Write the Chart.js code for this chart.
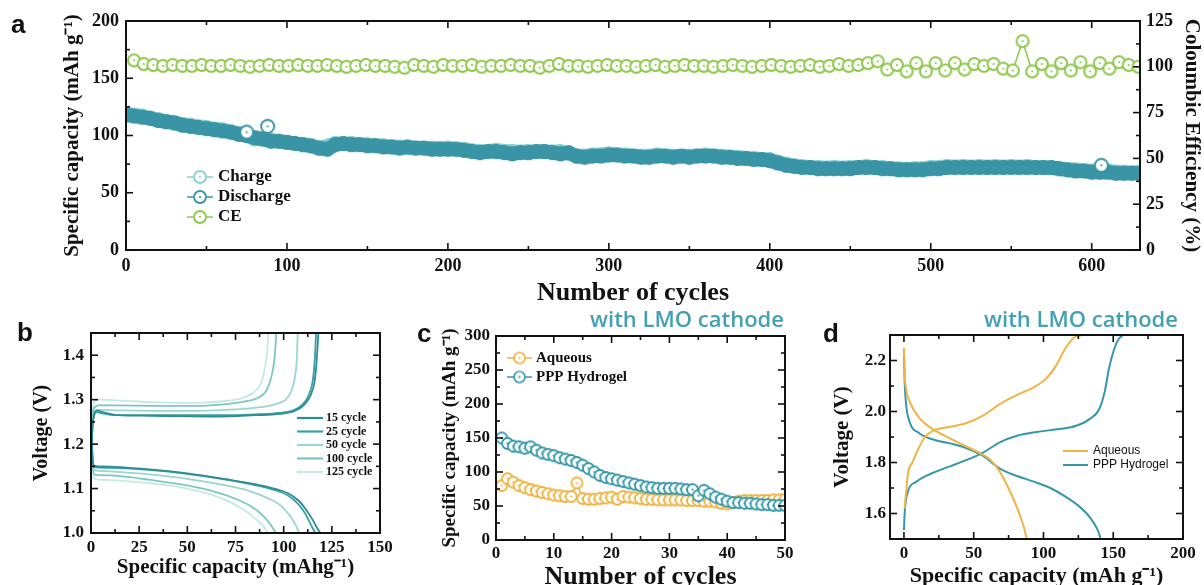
<!DOCTYPE html>
<html>
<head>
<meta charset="utf-8">
<script src="https://cdn.jsdelivr.net/npm/chart.js@4"></script>
<style>
body{margin:0;background:#fff;}
#fig{position:relative;width:1204px;height:585px;overflow:hidden;}
canvas{position:absolute;}
.lab{position:absolute;font:bold 26px 'Liberation Sans',Arial,sans-serif;color:#111;line-height:1;}
.lmo{position:absolute;font:600 22px 'Open Sans',sans-serif;color:#43a0b5;white-space:nowrap;line-height:1;transform:translateX(-50%);}
</style>
</head>
<body>
<div id="fig">
<canvas id="ca" width="1204" height="305" style="left:0;top:0"></canvas>
<canvas id="cb" width="400" height="280" style="left:0;top:305px"></canvas>
<canvas id="cc" width="400" height="280" style="left:400px;top:305px"></canvas>
<canvas id="cd" width="404" height="280" style="left:800px;top:305px"></canvas>
<div class="lab" style="left:11px;top:11px">a</div>
<div class="lab" style="left:17px;top:319px">b</div>
<div class="lab" style="left:417px;top:320px">c</div>
<div class="lab" style="left:823px;top:320px">d</div>
<div class="lmo" style="left:687px;top:307px">with LMO cathode</div>
<div class="lmo" style="left:1081px;top:307px">with LMO cathode</div>
</div>
<script>
// ---- panel a: long cycling (capacity every 5 / 10 cycles, CE every 6 cycles)
const dischargeStep = 5;
const dischargeCap = [
  118,117,116,115,113,112,111,109,108,107,
  106,105,104,103,101,100,98,97,95,95,
  94,93,92,91,89,88,92,93,92,92,
  91,91,90,90,89,90,89,89,88,88,
  88,88,87,86,85,86,86,85,84,85,
  85,86,86,85,84,85,82,81,82,82,
  83,83,82,82,81,81,82,82,81,82,
  81,82,82,82,81,81,80,80,79,79,
  78,76,74,73,72,72,71,71,71,71,
  71,72,72,72,71,71,70,70,70,70,
  71,71,72,72,72,72,72,72,72,72,
  72,72,72,72,72,72,71,70,69,69,
  68,68,68,67,67,67,67
];
const chargeStep = 10;
const chargeCap = [
  119,117,114,111,109,107,105,102,97,96,
  94,92,89,93,93,92,91,90,89,89,
  89,88,86,87,86,86,86,86,82,83,
  84,83,82,83,82,82,83,82,81,80,
  79,75,73,72,72,72,73,72,71,71,
  72,73,73,73,73,73,73,72,71,70,
  69,69,68,68
];
const outlierCycles = [75, 88, 606];
const outlierCap = [103, 108, 74];
const ceStart = 5, ceStep = 6;
const ce = [
  103.5,101.5,101,100.5,101,100.5,100.5,101,100.5,100.5,
  101,100.5,100,100.5,101,100.5,100.5,101,100.5,100.5,
  101,100.5,100,100.5,101,100.5,100.5,100,99.5,101,
  100.5,100,101,100.5,100.5,101,100,100.5,100.5,101,
  100.5,100.5,99.5,100.5,101.5,100.5,100.5,100,100.5,101,
  100.5,100.5,100,100.5,101,100,100.5,101,100.5,100.5,
  100,100.5,101,100.5,100,100.5,101,100.5,100,100.5,
  101,100,100.5,101.5,100.5,101,
  102,103,98.5,101,97.5,102,97.5,102,98,102,
  98.5,101.5,100.5,101.5,99,98,114,97.5,101.5,97.5,
  102,98,102.5,97.5,102,99,102.5,101,100
];
const aXTicks = [0,100,200,300,400,500,600];
const aYTicks = [0,50,100,150,200];
const aY2Ticks = [0,25,50,75,100,125];

// ---- panel b: charge/discharge curves [capacity, voltage]
const bLabels = ['15 cycle','25 cycle','50 cycle','100 cycle','125 cycle'];
const bColors = ['#2b8e97','#3a9fa7','#9ad6cf','#7cc8c1','#c6e9e3'];
const b15Charge = [[0,1.14],[0.3,1.19],[0.8,1.24],[1.5,1.265],[3,1.276],[6,1.272],[12,1.266],[25,1.264],[45,1.263],[65,1.262],[85,1.265],[98,1.268],[106,1.275],[111,1.29],[114,1.31],[116,1.34],[117,1.38],[117.6,1.42],[118,1.45]];
const b25Charge = [[0,1.14],[0.3,1.19],[0.8,1.24],[1.5,1.262],[3,1.272],[6,1.269],[12,1.265],[25,1.265],[45,1.265],[65,1.265],[85,1.267],[98,1.27],[105,1.276],[110,1.29],[113,1.31],[115,1.34],[116,1.38],[116.5,1.42],[116.8,1.45]];
const b50Charge = [[0,1.14],[0.3,1.2],[0.8,1.25],[1.5,1.27],[4,1.277],[15,1.276],[35,1.275],[55,1.275],[75,1.278],[88,1.283],[96,1.29],[101,1.3],[104,1.32],[105.8,1.35],[106.8,1.39],[107.3,1.45]];
const b100Charge = [[0,1.14],[0.3,1.2],[0.8,1.26],[1.5,1.28],[4,1.287],[15,1.287],[35,1.286],[55,1.286],[70,1.29],[80,1.296],[87,1.305],[91,1.32],[93.5,1.35],[95.2,1.39],[96.2,1.45]];
const b125Charge = [[0,1.14],[0.3,1.21],[0.8,1.27],[1.5,1.292],[4,1.3],[15,1.298],[35,1.294],[55,1.293],[70,1.297],[78,1.303],[84,1.315],[88,1.335],[90.2,1.37],[91.5,1.41],[92,1.45]];
const b15Dis = [[0,1.27],[0.3,1.22],[0.8,1.17],[1.5,1.152],[4,1.15],[15,1.148],[30,1.143],[50,1.134],[70,1.121],[85,1.11],[95,1.1],[102,1.09],[108,1.072],[112,1.05],[115,1.03],[117.5,1.01],[119,1.0]];
const b25Dis = [[0,1.27],[0.3,1.22],[0.8,1.17],[1.5,1.148],[4,1.147],[15,1.146],[30,1.142],[50,1.133],[70,1.12],[85,1.108],[95,1.097],[102,1.085],[107,1.068],[111,1.045],[114,1.02],[116.3,1.0]];
const b50Dis = [[0,1.28],[0.3,1.22],[0.8,1.17],[1.5,1.142],[4,1.14],[15,1.137],[30,1.132],[50,1.122],[70,1.107],[82,1.095],[92,1.078],[99,1.06],[103,1.04],[106,1.02],[108,1.0]];
const b100Dis = [[0,1.29],[0.3,1.22],[0.8,1.16],[1.5,1.132],[4,1.13],[15,1.128],[30,1.12],[50,1.107],[65,1.092],[75,1.077],[83,1.06],[89,1.04],[93,1.02],[96,1.0]];
const b125Dis = [[0,1.3],[0.3,1.22],[0.8,1.16],[1.5,1.124],[4,1.12],[15,1.118],[30,1.112],[50,1.1],[62,1.087],[72,1.07],[80,1.05],[86,1.03],[89.5,1.015],[92,1.0]];
const bXTicks = [0,25,50,75,100,125,150];
const bYTicks = [1.0,1.1,1.2,1.3,1.4];

// ---- panel c: short cycling, cycles 1..50
const cAqueous = [80,90,85,80,77,74,72,70,68,66,65,64,64,84,61,60,60,61,62,63,60,64,63,62,61,60,60,59,59,59,59,59,58,58,58,57,57,56,54,53,55,57,58,58,58,58,58,59,59,60];
const cHydrogel = [150,142,138,137,135,137,132,128,126,124,121,119,117,114,110,105,100,95,92,90,88,86,84,82,80,78,77,76,76,76,76,75,74,74,65,73,68,63,60,57,55,55,54,54,53,52,52,51,51,51];
const cXTicks = [0,10,20,30,40,50];
const cYTicks = [0,50,100,150,200,250,300];

// ---- panel d: voltage profiles [capacity, voltage]
const dAqCharge = [[0.5,1.62],[1.5,1.68],[3,1.76],[6,1.8],[10,1.85],[15,1.9],[21,1.925],[33,1.94],[45,1.955],[57,1.985],[69,2.03],[81,2.065],[93,2.095],[102,2.13],[109,2.18],[116,2.25],[122,2.29],[128,2.3]];
const dAqDis = [[0,2.25],[0.5,2.15],[1.5,2.09],[4,2.04],[11,1.975],[21,1.93],[33,1.895],[45,1.862],[55,1.835],[62,1.81],[68,1.77],[74,1.71],[79,1.65],[83,1.595],[86,1.545],[88,1.5]];
const dHyCharge = [[0,1.535],[0.5,1.6],[1,1.635],[3,1.69],[9,1.725],[21,1.76],[33,1.785],[45,1.81],[57,1.84],[69,1.88],[81,1.905],[95,1.92],[110,1.93],[124,1.945],[133,1.97],[140,2.01],[144,2.08],[147,2.17],[151,2.25],[154,2.285],[157,2.3]];
const dHyDis = [[0,2.24],[0.5,2.12],[1.5,2.03],[4,1.96],[11,1.915],[21,1.89],[33,1.875],[45,1.856],[57,1.825],[69,1.775],[81,1.747],[93,1.725],[105,1.7],[116,1.665],[126,1.626],[133,1.587],[139,1.534],[141,1.5]];
const dXTicks = [0,50,100,150,200];
const dYTicks = [1.6,1.8,2.0,2.2];

const serif = "'Liberation Serif','Times New Roman',serif";
const sans = "'Liberation Sans',Arial,sans-serif";

// ring marker with centre dot
function ring(color, r, lw, fill) {
  const c = document.createElement('canvas');
  const s = Math.ceil(2 * r + lw + 2);
  c.width = c.height = s;
  const g = c.getContext('2d');
  g.beginPath(); g.arc(s / 2, s / 2, r, 0, Math.PI * 2);
  if (fill) { g.fillStyle = fill; g.fill(); }
  g.strokeStyle = color; g.lineWidth = lw; g.stroke();
  g.fillStyle = color; g.beginPath(); g.arc(s / 2, s / 2, 1.1, 0, Math.PI * 2); g.fill();
  return c;
}
const pairs = arr => arr.map(p => ({x: p[0], y: p[1]}));

// frame, inward ticks and in-plot legend
const deco = {
  id: 'deco',
  afterDatasetsDraw(chart, args, o) {
    const {ctx, chartArea: a} = chart;
    ctx.save();
    ctx.strokeStyle = '#111';
    ctx.lineWidth = 2;
    ctx.strokeRect(a.left, a.top, a.right - a.left, a.bottom - a.top);
    ctx.lineWidth = 1.6;
    const line = (x1, y1, x2, y2) => { ctx.beginPath(); ctx.moveTo(x1, y1); ctx.lineTo(x2, y2); ctx.stroke(); };
    Object.values(chart.scales).forEach(s => {
      const vals = s.ticks.map(t => t.value);
      const step = vals[1] - vals[0];
      const marks = [[vals[0] - step / 2, 4]];
      vals.forEach(v => { marks.push([v, 7]); marks.push([v + step / 2, 4]); });
      marks.forEach(([v, len]) => {
        if (v < s.min - 1e-9 || v > s.max + 1e-9) return;
        const p = s.getPixelForValue(v);
        if (s.isHorizontal()) {
          line(p, a.bottom, p, a.bottom - len);
          line(p, a.top, p, a.top + len);
        } else if (s.position === 'left') {
          line(a.left, p, a.left + len, p);
          if (o.mirror) line(a.right, p, a.right - len, p);
        } else {
          line(a.right, p, a.right - len, p);
        }
      });
    });
    const L = o.legend;
    if (L) {
      let y = L.y;
      ctx.font = L.font;
      ctx.textBaseline = 'middle';
      chart.data.datasets.filter(d => d.inLegend !== false).forEach(d => {
        ctx.strokeStyle = d.borderColor;
        ctx.lineWidth = L.lw;
        line(L.x, y, L.x + L.len, y);
        if (d.legendMarker) {
          const m = d.legendMarker;
          ctx.drawImage(m, L.x + L.len / 2 - m.width / 2, y - m.height / 2);
        }
        ctx.fillStyle = '#111';
        ctx.fillText(d.label, L.x + L.len + L.gap, y);
        y += L.dy;
      });
    }
    ctx.restore();
  }
};

function axis(o) {
  return {
    type: 'linear', position: o.pos, min: o.min, max: o.max,
    afterBuildTicks: s => { s.ticks = o.ticks.map(v => ({value: v})); },
    afterFit: s => { if (s.isHorizontal()) s.height = o.size; else s.width = o.size; },
    grid: {display: false, drawTicks: false},
    border: {display: false},
    ticks: {
      font: {family: serif, weight: 'bold', size: o.fs}, color: '#111', padding: o.pad,
      maxRotation: 0, autoSkip: false, callback: o.fmt || (v => v)
    },
    title: {
      display: true, text: o.title, color: '#111', padding: o.tpad,
      font: {family: serif, weight: 'bold', size: o.tfs, lineHeight: 1.2}
    }
  };
}

function base(padding, scales, deco_opts) {
  return {
    responsive: false, animation: false,
    layout: {padding: padding, autoPadding: false},
    plugins: {legend: {display: false}, tooltip: {enabled: false}, deco: deco_opts},
    scales: scales
  };
}

// ---------- a
const tealA = '#3a95a6', chargeA = '#86d0d0', greenA = '#8cc84b';
new Chart(document.getElementById('ca'), {
  type: 'line',
  data: {
    datasets: [
      {label: 'Charge', data: chargeCap.map((y, i) => ({x: i * chargeStep, y})), yAxisID: 'y',
       borderColor: chargeA, borderWidth: 14, pointStyle: ring(chargeA, 6.5, 2), pointRadius: 5,
       order: 3, legendMarker: ring(chargeA, 6, 1.8, '#fff')},
      {label: 'Discharge', data: dischargeCap.map((y, i) => ({x: i * dischargeStep, y})), yAxisID: 'y',
       borderColor: tealA, borderWidth: 14, pointStyle: ring(tealA, 6.5, 2), pointRadius: 5,
       order: 2, legendMarker: ring(tealA, 6, 1.8, '#fff')},
      {label: 'Discharge', data: outlierCycles.map((x, i) => ({x, y: outlierCap[i]})), yAxisID: 'y',
       borderColor: tealA, showLine: false, pointStyle: ring(tealA, 6.5, 2, '#fff'), pointRadius: 5,
       order: 1, inLegend: false},
      {label: 'CE', data: ce.map((y, i) => ({x: ceStart + i * ceStep, y})), yAxisID: 'y2',
       borderColor: greenA, borderWidth: 1.5, pointStyle: ring(greenA, 6, 2, '#fff'), pointRadius: 5,
       order: 0, legendMarker: ring(greenA, 6, 1.8, '#fff')}
    ]
  },
  options: base({top: 21, left: 0, right: 0, bottom: 0}, {
    x: axis({pos: 'bottom', min: 0, max: 630, ticks: aXTicks, size: 55, fs: 18, pad: 6,
             title: 'Number of cycles', tfs: 26, tpad: {top: 0, bottom: -3.6}}),
    y: axis({pos: 'left', min: 0, max: 200, ticks: aYTicks, size: 126, fs: 18, pad: 7,
             title: 'Specific capacity (mAh g\u207B\u00B9)', tfs: 21, tpad: {top: 60, bottom: 0}}),
    y2: axis({pos: 'right', min: 0, max: 125, ticks: aY2Ticks, size: 64, fs: 18, pad: 6,
              title: 'Coloumbic Efficiency (%)', tfs: 21, tpad: {top: 0, bottom: 0}})
  }, {mirror: false, legend: {x: 187, y: 177, len: 26, gap: 5, dy: 20, lw: 1.5,
      font: 'bold 17px ' + serif}}),
  plugins: [deco]
});

// ---------- b
const bCharges = [b15Charge, b25Charge, b50Charge, b100Charge, b125Charge];
const bDis = [b15Dis, b25Dis, b50Dis, b100Dis, b125Dis];
const bSets = [];
bLabels.forEach((lab, i) => {
  bSets.push({label: lab, data: pairs(bCharges[i]), borderColor: bColors[i], borderWidth: 1.8,
              pointRadius: 0, cubicInterpolationMode: 'monotone', order: i});
  bSets.push({label: lab, data: pairs(bDis[i]), borderColor: bColors[i], borderWidth: 1.8,
              pointRadius: 0, cubicInterpolationMode: 'monotone', order: i, inLegend: false});
});
new Chart(document.getElementById('cb'), {
  type: 'line',
  data: {datasets: bSets},
  options: base({top: 28, left: 0, right: 20, bottom: 0}, {
    x: axis({pos: 'bottom', min: 0, max: 150, ticks: bXTicks, size: 52, fs: 17, pad: 4,
             title: 'Specific capacity (mAhg\u207B\u00B9)', tfs: 21, tpad: {top: 0, bottom: 4.4}}),
    y: axis({pos: 'left', min: 1.0, max: 1.45, ticks: bYTicks, size: 91, fs: 17, pad: 7,
             fmt: v => v.toFixed(1), title: 'Voltage (V)', tfs: 20, tpad: {top: 30, bottom: 0}})
  }, {mirror: true, legend: {x: 297, y: 113, len: 26, gap: 3, dy: 13.5, lw: 2.2,
      font: 'bold 12px ' + serif}}),
  plugins: [deco]
});

// ---------- c
const orangeC = '#f0b23e', tealC = '#3498a9';
const cCycles = cAqueous.map((v, i) => i + 1);
new Chart(document.getElementById('cc'), {
  type: 'line',
  data: {
    datasets: [
      {label: 'Aqueous', data: cAqueous.map((y, i) => ({x: cCycles[i], y})), borderColor: orangeC,
       borderWidth: 1.5, pointStyle: ring(orangeC, 5.5, 1.8, '#fff'), pointRadius: 5, order: 1,
       legendMarker: ring(orangeC, 5.5, 1.6, '#fff')},
      {label: 'PPP Hydrogel', data: cHydrogel.map((y, i) => ({x: cCycles[i], y})), borderColor: tealC,
       borderWidth: 1.5, pointStyle: ring(tealC, 5.5, 1.8, '#fff'), pointRadius: 5, order: 0,
       legendMarker: ring(tealC, 5.5, 1.6, '#fff')}
    ]
  },
  options: base({top: 31, left: 0, right: 15, bottom: 0}, {
    x: axis({pos: 'bottom', min: 0, max: 50, ticks: cXTicks, size: 45, fs: 17, pad: 3,
             title: 'Number of cycles', tfs: 26, tpad: {top: 0, bottom: -7.6}}),
    y: axis({pos: 'left', min: 0, max: 300, ticks: cYTicks, size: 96, fs: 17, pad: 6,
             title: 'Specific capacity (mAh g\u207B\u00B9)', tfs: 19, tpad: {top: 38.6, bottom: 0}})
  }, {mirror: true, legend: {x: 107, y: 53, len: 25, gap: 4, dy: 19, lw: 1.5,
      font: 'bold 15px ' + serif}}),
  plugins: [deco]
});

// ---------- d
const orangeD = '#f0b444', tealD = '#3598a9';
new Chart(document.getElementById('cd'), {
  type: 'line',
  data: {
    datasets: [
      {label: 'Aqueous', data: pairs(dAqCharge), borderColor: orangeD, borderWidth: 2, pointRadius: 0,
       cubicInterpolationMode: 'monotone'},
      {label: 'Aqueous', data: pairs(dAqDis), borderColor: orangeD, borderWidth: 2, pointRadius: 0,
       cubicInterpolationMode: 'monotone', inLegend: false},
      {label: 'PPP Hydrogel', data: pairs(dHyCharge), borderColor: tealD, borderWidth: 2, pointRadius: 0,
       cubicInterpolationMode: 'monotone'},
      {label: 'PPP Hydrogel', data: pairs(dHyDis), borderColor: tealD, borderWidth: 2, pointRadius: 0,
       cubicInterpolationMode: 'monotone', inLegend: false}
    ]
  },
  options: base({top: 30, left: 0, right: 21, bottom: 0}, {
    x: axis({pos: 'bottom', min: -10, max: 200, ticks: dXTicks, size: 46, fs: 17, pad: 4,
             title: 'Specific capacity (mAh g\u207B\u00B9)', tfs: 22, tpad: {top: 0, bottom: -5}}),
    y: axis({pos: 'left', min: 1.5, max: 2.3, ticks: dYTicks, size: 90, fs: 17, pad: 4,
             fmt: v => v.toFixed(1), title: 'Voltage (V)', tfs: 21, tpad: {top: 30, bottom: 0}})
  }, {mirror: true, legend: {x: 263, y: 146, len: 25, gap: 5, dy: 14, lw: 2,
      font: '12px ' + sans}}),
  plugins: [deco]
});
</script>
</body>
</html>
